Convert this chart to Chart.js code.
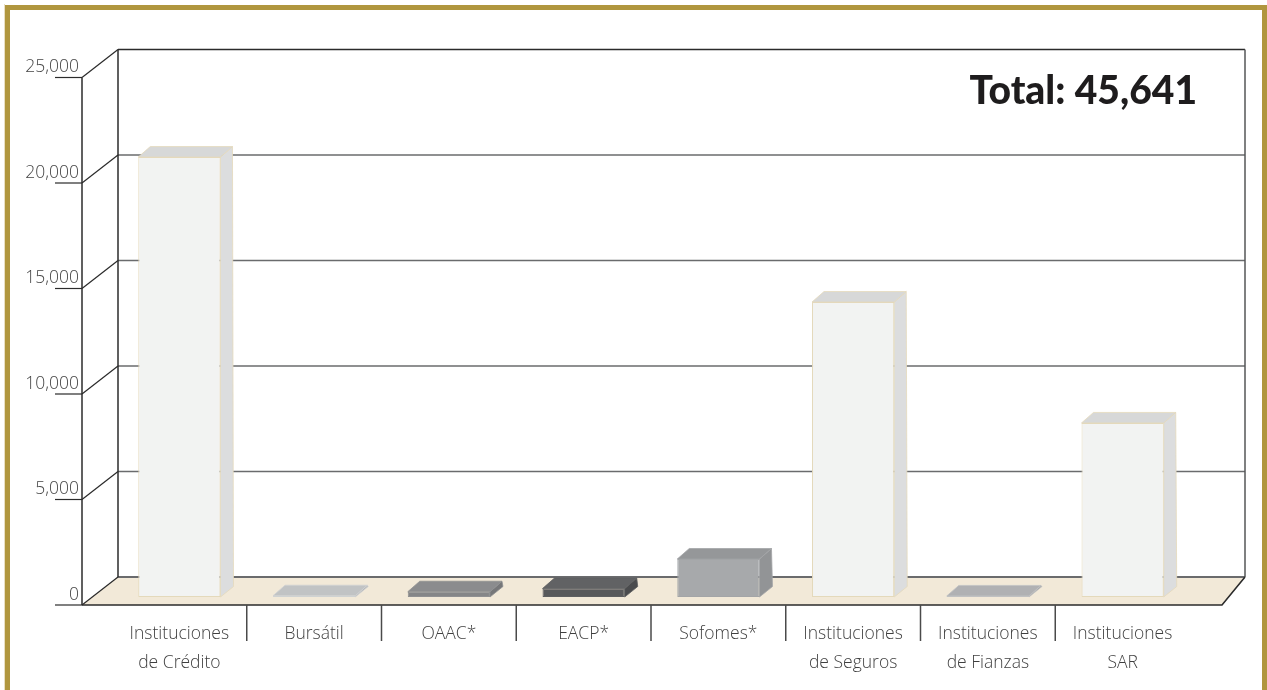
<!DOCTYPE html>
<html>
<head>
<meta charset="utf-8">
<script src="https://cdn.jsdelivr.net/npm/chart.js@4.4.1/dist/chart.umd.min.js"></script>
<style>
  html, body { margin: 0; padding: 0; background: #ffffff; }
  canvas { display: block; }
</style>
</head>
<body>
<canvas id="c" width="1267" height="690"></canvas>
<script>
// ---- Data ----
const categories = [
  ["Instituciones", "de Crédito"],
  "Bursátil",
  "OAAC*",
  "EACP*",
  "Sofomes*",
  ["Instituciones", "de Seguros"],
  ["Instituciones", "de Fianzas"],
  ["Instituciones", "SAR"]
];
const values = [20850, 60, 250, 400, 1800, 13980, 51, 8250];
const yTicks = [0, 5000, 10000, 15000, 20000, 25000];
const totalLabel = "Total: " + values.reduce((a, b) => a + b, 0).toLocaleString("en-US");

// ---- Styles ----
const frontColors = ['#f2f3f2', '#c6c8c9', '#858688', '#58595b', '#a7a9ab', '#f2f3f2', '#b4b5b7', '#f2f3f2'];
const sideColors  = ['#dcddde', '#b3b5b6', '#767779', '#4a4b4d', '#929496', '#dcddde', '#a3a4a6', '#dcddde'];
const topColors   = ['#d7d8d8', '#c1c3c4', '#8b8c8e', '#616264', '#959799', '#d7d8d8', '#b0b1b3', '#d7d8d8'];
const edgeColors  = ['#e4d9bb', '#d0d2d3', '#8f9092', '#5e5f61', '#a3a5a7', '#e4d9bb', '#c0c1c3', '#e4d9bb'];

// 3D geometry (relative to chart area / y scale pixels)
const BAR_D = { dx: 12, dy: -10.5 };
const FRONT_DY = 8, BACK_DY = -20;
const FRONT_LX = -30, BACK_LX = 6, FRONT_RX = 32, BACK_RX = 55;

const framePlugin = {
  id: 'frame',
  beforeDraw(chart) {
    const ctx = chart.ctx;
    const W = chart.width, H = chart.height;
    ctx.save();
    ctx.fillStyle = '#ffffff';
    ctx.fillRect(0, 0, W, H);
    ctx.fillStyle = '#e9dfc3';
    ctx.fillRect(4, 4, 1, H);
    ctx.fillStyle = '#b0963e';
    ctx.fillRect(5, 5, 5, H - 5);
    ctx.fillRect(5, 5, W - 5, 5);
    ctx.fillRect(W - 5, 5, 5, H - 5);
    ctx.restore();
  }
};

const wallsPlugin = {
  id: 'walls',
  beforeDatasetsDraw(chart) {
    const ctx = chart.ctx;
    const y = chart.scales.y, x = chart.scales.x;
    const L = chart.chartArea.left, R = chart.chartArea.right;
    const p0 = y.getPixelForValue(0);
    const pMax = y.getPixelForValue(yTicks[yTicks.length - 1]);
    ctx.save();
    // floor
    ctx.fillStyle = '#f2e9d8';
    ctx.beginPath();
    ctx.moveTo(L + FRONT_LX, p0 + FRONT_DY);
    ctx.lineTo(R + FRONT_RX, p0 + FRONT_DY);
    ctx.lineTo(R + BACK_RX, p0 + BACK_DY);
    ctx.lineTo(L + BACK_LX, p0 + BACK_DY);
    ctx.closePath();
    ctx.fill();
    // back wall grid lines
    yTicks.forEach((v) => {
      const py = y.getPixelForValue(v) + BACK_DY;
      ctx.strokeStyle = v === yTicks[yTicks.length - 1] ? '#2b2b2b' : '#6a6b6d';
      ctx.lineWidth = v === 0 ? 2 : 1.5;
      ctx.beginPath();
      ctx.moveTo(L + BACK_LX, py);
      ctx.lineTo(R + BACK_RX, py);
      ctx.stroke();
    });
    // back wall verticals
    ctx.strokeStyle = '#2b2b2b';
    ctx.lineWidth = 1.5;
    ctx.beginPath();
    ctx.moveTo(L + BACK_LX, pMax + BACK_DY);
    ctx.lineTo(L + BACK_LX, p0 + BACK_DY);
    ctx.stroke();
    ctx.strokeStyle = '#555657';
    ctx.beginPath();
    ctx.moveTo(R + BACK_RX, pMax + BACK_DY);
    ctx.lineTo(R + BACK_RX, p0 + BACK_DY);
    ctx.stroke();
    // left side wall diagonals + front vertical + tick marks
    ctx.strokeStyle = '#2b2b2b';
    ctx.lineWidth = 1.2;
    yTicks.forEach((v) => {
      const py = y.getPixelForValue(v);
      ctx.beginPath();
      ctx.moveTo(L + FRONT_LX, py + FRONT_DY);
      ctx.lineTo(L + BACK_LX, py + BACK_DY);
      ctx.stroke();
      ctx.beginPath();
      ctx.moveTo(L + FRONT_LX - 27, py + FRONT_DY);
      ctx.lineTo(L + FRONT_LX, py + FRONT_DY);
      ctx.stroke();
    });
    ctx.lineWidth = 1.5;
    ctx.beginPath();
    ctx.moveTo(L + FRONT_LX, pMax + FRONT_DY);
    ctx.lineTo(L + FRONT_LX, p0 + FRONT_DY);
    ctx.stroke();
    // floor front edge and right edge
    ctx.lineWidth = 1.6;
    ctx.strokeStyle = '#2b2b2b';
    ctx.beginPath();
    ctx.moveTo(L + FRONT_LX, p0 + FRONT_DY);
    ctx.lineTo(R + FRONT_RX, p0 + FRONT_DY);
    ctx.lineTo(R + BACK_RX, p0 + BACK_DY);
    ctx.stroke();
    // category dividers below the floor
    ctx.strokeStyle = '#4a4a4a';
    ctx.lineWidth = 1.5;
    for (let i = 1; i < categories.length; i++) {
      const px = (x.getPixelForValue(i - 1) + x.getPixelForValue(i)) / 2;
      ctx.beginPath();
      ctx.moveTo(px, p0 + FRONT_DY);
      ctx.lineTo(px, p0 + FRONT_DY + 36);
      ctx.stroke();
    }
    // total label
    ctx.fillStyle = '#1e1c1d';
    ctx.font = '900 39px Lato, "Noto Sans", sans-serif';
    ctx.textAlign = 'right';
    ctx.textBaseline = 'alphabetic';
    ctx.fillText(totalLabel, R + 7, y.getPixelForValue(yTicks[yTicks.length - 1]) + 34.5);
    ctx.restore();
  },
  afterDatasetsDraw(chart) {
    const ctx = chart.ctx;
    const meta = chart.getDatasetMeta(0);
    ctx.save();
    meta.data.forEach((bar, i) => {
      const p = bar.getProps(['x', 'y', 'base', 'width'], true);
      const left = p.x - p.width / 2, right = p.x + p.width / 2;
      const top = Math.min(p.y, p.base), bottom = Math.max(p.y, p.base);
      // side face
      ctx.fillStyle = sideColors[i];
      ctx.beginPath();
      ctx.moveTo(right, top);
      ctx.lineTo(right + BAR_D.dx, top + BAR_D.dy);
      ctx.lineTo(right + BAR_D.dx + 1, bottom + BAR_D.dy);
      ctx.lineTo(right, bottom);
      ctx.closePath();
      ctx.fill();
      ctx.strokeStyle = edgeColors[i];
      ctx.lineWidth = 0.8;
      ctx.stroke();
      // top face
      ctx.fillStyle = topColors[i];
      ctx.beginPath();
      ctx.moveTo(left, top);
      ctx.lineTo(left + BAR_D.dx, top + BAR_D.dy);
      ctx.lineTo(right + BAR_D.dx, top + BAR_D.dy);
      ctx.lineTo(right, top);
      ctx.closePath();
      ctx.fill();
      ctx.stroke();
    });
    ctx.restore();
  }
};

new Chart(document.getElementById('c'), {
  type: 'bar',
  data: {
    labels: categories,
    datasets: [{
      data: values,
      backgroundColor: frontColors,
      borderColor: edgeColors,
      borderWidth: 1,
      borderSkipped: false,
      barPercentage: 0.61,
      categoryPercentage: 1.0
    }]
  },
  options: {
    responsive: false,
    animation: false,
    devicePixelRatio: 1,
    locale: 'en-US',
    layout: { padding: { left: 0, right: 77, top: 69.5, bottom: 0 } },
    plugins: {
      legend: { display: false },
      tooltip: { enabled: false },
      title: { display: false }
    },
    scales: {
      x: {
        offset: true,
        grid: { display: false },
        border: { display: false },
        ticks: {
          padding: 14.5,
          color: '#3f3f3f',
          maxRotation: 0,
          autoSkip: false,
          font: { family: '"Open Sans", sans-serif', size: 17.5, weight: 300, lineHeight: 1.66 }
        },
        afterFit(scale) { scale.height = 93; }
      },
      y: {
        min: 0,
        max: 25000,
        grid: { display: false },
        border: { display: false },
        afterBuildTicks(scale) { scale.ticks = yTicks.map(v => ({ value: v })); },
        ticks: {
          padding: 25,
          labelOffset: -2,
          color: '#444444',
          font: { family: '"Open Sans", sans-serif', size: 17.5, weight: 300 },
          callback: (v) => Number(v).toLocaleString('en-US')
        },
        afterFit(scale) { scale.width = 112; }
      }
    }
  },
  plugins: [framePlugin, wallsPlugin]
});
</script>
</body>
</html>
